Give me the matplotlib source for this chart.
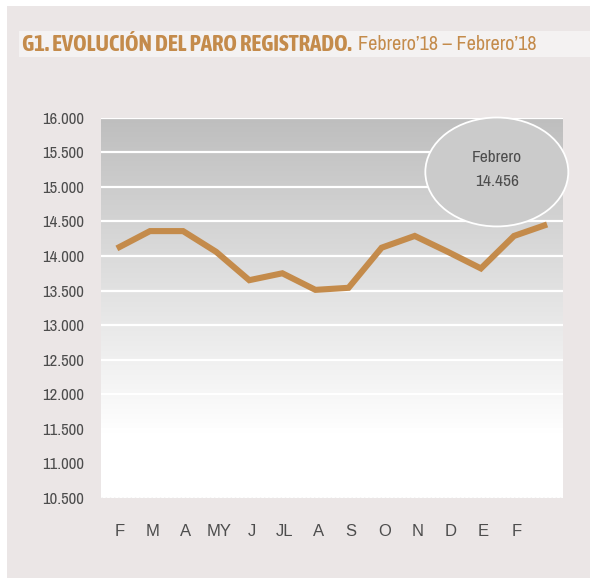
import matplotlib

matplotlib.use("Agg")

import matplotlib.pyplot as plt  # noqa: E402
import numpy as np  # noqa: E402
from matplotlib import font_manager  # noqa: E402
from matplotlib.patches import Ellipse, Rectangle  # noqa: E402

# Paro registrado, Febrero'18 .. Febrero'19 (last point has no label)
months = ["F", "M", "A", "MY", "J", "JL", "A", "S", "O", "N", "D", "E", "F", ""]
paro = [14110, 14360, 14360, 14060, 13650, 13750, 13510, 13540,
        14120, 14290, 14060, 13820, 14290, 14456]
yticks = [10500, 11000, 11500, 12000, 12500, 13000, 13500,
          14000, 14500, 15000, 15500, 16000]

GOLD = "#c48b4b"
PANEL = "#ebe6e6"
TEXT = "#4d4d4d"


def weights(name):
    out = set()
    for f in font_manager.fontManager.ttflist:
        if f.name == name:
            w = f.weight
            out.add(w if isinstance(w, int) else {"bold": 700, "normal": 400}.get(w, 400))
    return out


# the reference uses a condensed sans; prefer one that also has a bold face
narrow_names = sorted({f.name for f in font_manager.fontManager.ttflist
                       if "Narrow" in f.name or "Condensed" in f.name})
with_bold = [n for n in narrow_names if max(weights(n)) >= 700]
NARROW = [narrow_names[0]] if narrow_names else []
NARROW_BOLD = [with_bold[0]] if with_bold else NARROW
NARROW += ["Liberation Sans", "DejaVu Sans"]
NARROW_BOLD += ["Liberation Sans", "DejaVu Sans"]

fig = plt.figure(figsize=(5.9, 5.78), dpi=100, facecolor="white")

# background panel and title band
bg = fig.add_axes([7 / 590, 0, 583 / 590, 1 - 6 / 578], zorder=-5)
bg.set_axis_off()
bg.add_patch(Rectangle((0, 0), 1, 1, transform=bg.transAxes, facecolor=PANEL, edgecolor="none"))
bg.add_patch(Rectangle((12 / 583, 1 - 51 / 572), 1, 26 / 572, transform=bg.transAxes,
                       facecolor="#f4f2f2", edgecolor="none"))

t1 = fig.text(22 / 590, 1 - 45 / 578, "G1. EVOLUCIÓN DEL PARO REGISTRADO.",
              family=NARROW_BOLD, fontweight="bold", fontsize=16.5, color=GOLD, va="center")
fig.canvas.draw()
bb = t1.get_window_extent()
fig.text(bb.x1 / fig.bbox.width + 6 / 590, 1 - 45 / 578, "Febrero\u201918 \u2013 Febrero\u201918",
         family=NARROW, fontsize=14.5, color=GOLD, va="center")

ax = fig.add_axes([101 / 590, 1 - 498 / 578, 462 / 590, 380.3 / 578])
ax.set_facecolor("white")
x = np.arange(len(paro))

# vertical grey gradient, white from about 11.000 down
grad = np.concatenate([np.linspace(0.745, 1.0, 256), np.ones(52)])
img = np.repeat(grad[:, None], 3, axis=1).reshape(-1, 1, 3)
ax.imshow(img, aspect="auto", extent=(-0.48, len(paro) - 0.52, 10500, 16000),
          origin="upper", zorder=0)
ax.set_xlim(-0.48, len(paro) - 1 + 0.48)
ax.set_ylim(10500, 16000)

for v in yticks[1:]:
    ax.axhline(v, color="white", lw=1.6, zorder=1)
ax.axhline(10500, color="#cfcfcf", lw=1.0, ls=(0, (1, 2)), zorder=1)

ax.plot(x, paro, color=GOLD, lw=4.4, solid_capstyle="butt", solid_joinstyle="miter", zorder=3)

ell = Ellipse((11.48, 15215), 4.32, 1575, facecolor="#cbcbcb", edgecolor="white",
              lw=1.3, zorder=4, clip_on=False)
ax.add_patch(ell)
ax.text(11.48, 15425, "Febrero", family=NARROW, fontsize=12.5,
        color=TEXT, ha="center", va="center", zorder=5)
ax.text(11.48, 15075, "14.456", family=NARROW, fontsize=12.5,
        color=TEXT, ha="center", va="center", zorder=5)

for s in ax.spines.values():
    s.set_visible(False)
ax.set_yticks(yticks)
ax.set_yticklabels([f"{v:,}".replace(",", ".") for v in yticks], family=NARROW,
                   fontsize=12, color=TEXT)
ax.set_xticks(x + 0.08)
ax.set_xticklabels(months, family=["Liberation Sans", "DejaVu Sans"], fontsize=12, color=TEXT)
ax.tick_params(axis="both", length=0)
ax.tick_params(axis="y", pad=12)
ax.tick_params(axis="x", pad=19)

fig.savefig("out.png", dpi=100, facecolor="white")
